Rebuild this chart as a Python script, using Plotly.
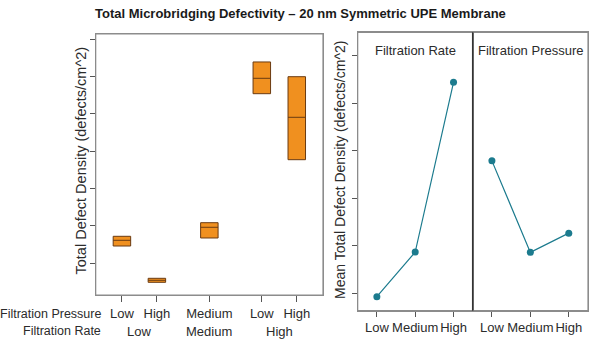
import plotly.graph_objects as go

W, H = 590, 344

# ---- data (arbitrary units) ----
box_pos = [1, 2, 3.5, 5, 6]
box_pressure = ["Low", "High", "Medium", "Low", "High"]
rate_groups = ["Low", "Medium", "High"]
rate_group_pos = [1.5, 3.5, 5.5]
box_q1 = [1.456, 0.482, 1.671, 5.541, 3.771]
box_median = [1.609, 0.536, 1.958, 5.954, 4.908]
box_q3 = [1.716, 0.590, 2.081, 6.392, 5.997]

levels = ["Low", "Medium", "High"]
rate_means = [0.928, 1.868, 5.446]
pressure_means = [3.790, 1.862, 2.267]

left_yticks = [1, 2, 3, 4, 5, 6, 7]
right_yticks = [1, 2, 3, 4, 5, 6]

FONT = "Liberation Sans, Arial, sans-serif"
TXT = "#2b2b2b"
FRAME = "#8c8c8c"
TICK = "#555555"
ORANGE = "#f0901f"
BROWN = "#6a3b12"
TEAL = "#1c7b8e"

def px(x):
    return x / W

def py(y):
    return (H - y) / H

fig = go.Figure()

fig.add_trace(go.Box(
    x=box_pos, q1=box_q1, median=box_median, q3=box_q3,
    lowerfence=box_q1, upperfence=box_q3,
    width=0.5, whiskerwidth=0,
    fillcolor=ORANGE, line=dict(color=BROWN, width=1),
    boxpoints=False, showlegend=False, hoverinfo="skip",
    xaxis="x", yaxis="y",
))

fig.add_trace(go.Scatter(
    x=[0, 1, 2], y=rate_means, mode="lines+markers",
    line=dict(color=TEAL, width=1.2), marker=dict(color=TEAL, size=7),
    showlegend=False, xaxis="x2", yaxis="y2",
))
fig.add_trace(go.Scatter(
    x=[0, 1, 2], y=pressure_means, mode="lines+markers",
    line=dict(color=TEAL, width=1.2), marker=dict(color=TEAL, size=7),
    showlegend=False, xaxis="x3", yaxis="y3",
))

axis_common = dict(showline=True, linecolor=FRAME, linewidth=1, mirror=True,
                   showgrid=False, zeroline=False, ticks="outside",
                   tickcolor=TICK, tickwidth=1, tickangle=0, automargin=False,
                   tickfont=dict(family=FONT, size=13, color=TXT))

fig.update_layout(
    width=W, height=H, margin=dict(l=0, r=0, t=0, b=0, autoexpand=False),
    paper_bgcolor="white", plot_bgcolor="white",
    font=dict(family=FONT, color=TXT),
    xaxis=dict(domain=[px(95.7), px(323)], range=[0.25, 6.75], anchor="y",
               tickvals=box_pos, ticktext=box_pressure, ticklen=6, **axis_common),
    yaxis=dict(domain=[py(295), py(34)], range=[0.142, 7.142], anchor="x",
               tickvals=left_yticks, showticklabels=False, ticklen=5, **axis_common),
    xaxis2=dict(domain=[px(357.7), px(472.7)], range=[-0.5, 2.5], anchor="y2",
                tickvals=[0, 1, 2], ticktext=levels, ticklen=5, **axis_common),
    yaxis2=dict(domain=[py(310.7), py(32.3)], range=[0.633, 6.499], anchor="x2",
                tickvals=right_yticks, showticklabels=False, ticklen=5, **axis_common),
    xaxis3=dict(domain=[px(472.7), px(588)], range=[-0.5, 2.5], anchor="y3",
                tickvals=[0, 1, 2], ticktext=levels, ticklen=5, **axis_common),
    yaxis3=dict(domain=[py(310.7), py(32.3)], range=[0.633, 6.499], anchor="x3",
                showticklabels=False,
                **{**axis_common, "ticks": ""}),
)

# panel frames
for xr, yr, c in [("x domain", "y domain", FRAME), ("x2 domain", "y2 domain", FRAME),
                  ("x3 domain", "y3 domain", FRAME)]:
    fig.add_shape(type="rect", xref=xr, yref=yr, x0=0, x1=1, y0=0, y1=1,
                  line=dict(color=c, width=1.2), layer="above")
fig.add_shape(type="line", xref="x3 domain", yref="y3 domain",
              x0=0, x1=0, y0=0, y1=1, line=dict(color="#333333", width=1.5), layer="above")

ann = []
def add(text, x, y, size, xref="paper", xanchor="center", angle=0, color=TXT):
    ann.append(dict(text=text, x=x, y=y, xref=xref, yref="paper", showarrow=False,
                    xanchor=xanchor, yanchor="middle", textangle=angle,
                    font=dict(family=FONT, size=size, color=color)))

add("<b>Total Microbridging Defectivity – 20 nm Symmetric UPE Membrane</b>", px(300), py(13.5), 13, color="#1a1a1a")
add("Total Defect Density (defects/cm^2)", px(80.5), py(160), 14.5, angle=-90)
add("Mean Total Defect Density (defects/cm^2)", px(340), py(170), 14, angle=-90)
add("Filtration Pressure", px(102.5), py(313.5), 12.5, xanchor="right")
add("Filtration Rate", px(102.5), py(331), 12.5, xanchor="right")
for g, p in zip(rate_groups, rate_group_pos):
    add(g, p, py(331), 13, xref="x")
add("Filtration Rate", px(415.5), py(50.5), 13)
add("Filtration Pressure", px(530.5), py(50.5), 13)
fig.update_layout(annotations=ann)

fig.write_html("out.html")
